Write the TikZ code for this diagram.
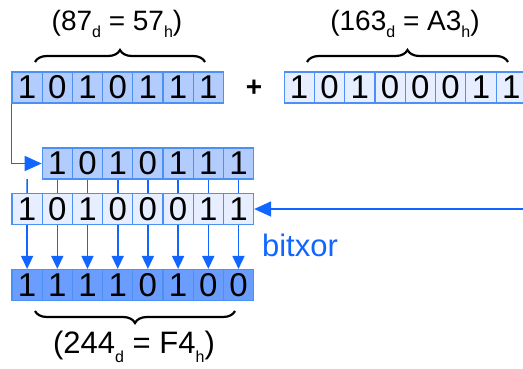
\documentclass[tikz,border=0pt]{standalone}
\usepackage{fontspec}
\setmainfont{Liberation Sans}
\usetikzlibrary{arrows.meta,decorations.pathreplacing}
\definecolor{fillA}{HTML}{B3CCFE}
\definecolor{fillB}{HTML}{E6EEFF}
\definecolor{fillC}{HTML}{6A9DFE}
\definecolor{cellline}{HTML}{4A90F5}
\definecolor{arrblue}{HTML}{1166FF}
\newcommand{\subscr}[1]{\raisebox{-0.28em}{\fontsize{16}{16}\selectfont #1}}
\tikzset{
  cell/.style={draw=cellline, line width=1.1pt, minimum width=30.2pt, minimum height=31pt,
    inner sep=0pt, font=\fontsize{33}{33}\selectfont},
  cellA/.style={cell, fill=fillA},
  cellB/.style={cell, fill=fillB},
  cellC/.style={cell, fill=fillC},
  conn/.style={draw=arrblue, line width=1.6pt},
  arr/.style={conn, -{Triangle[length=17pt,width=15pt]}},
  arrsmall/.style={conn, -{Triangle[length=13pt,width=12pt]}},
  lbl/.style={font=\fontsize{28}{28}\selectfont, inner sep=0pt},
  bracestyle/.style={draw=black, line width=2.2pt, decorate,
    decoration={brace, amplitude=12pt}},
}
\begin{document}
\begin{tikzpicture}[x=1pt,y=-1pt]
\useasboundingbox (0,0) rectangle (523,368);
% row 1 left: 1010111
\foreach \v [count=\i] in {1,0,1,0,1,1,1}
  \node[cellA] (a\i) at ({12+30.2*(\i-0.5)},87.5) {\v};
% row 1 right: 10100011
\foreach \v [count=\i] in {1,0,1,0,0,0,1,1}
  \node[cellB] (r\i) at ({284+30.3*(\i-0.5)},87.5) {\v};
% row 2 shifted: 1010111
\foreach \v [count=\i] in {1,0,1,0,1,1,1}
  \node[cellA] (b\i) at ({42.2+30.2*(\i-0.5)},163.5) {\v};
% row 3: 10100011
\foreach \v [count=\i] in {1,0,1,0,0,0,1,1}
  \node[cellB] (c\i) at ({12+30.2*(\i-0.5)},209) {\v};
% row 4: 11110100
\foreach \v [count=\i] in {1,1,1,1,0,1,0,0}
  \node[cellC] (d\i) at ({12+30.2*(\i-0.5)},285) {\v};

% labels
\node[lbl] (l1) at (117,24) {(87\subscr{d} = 57\subscr{h})};
\node[lbl] (l2) at (405,24) {(163\subscr{d} = A3\subscr{h})};
\node[lbl, font=\fontsize{31}{31}\selectfont] (l3) at (134,347) {(244\subscr{d} = F4\subscr{h})};
\node[lbl] (plus) at (254,88) {\textbf{+}};
\node[lbl, text=arrblue, font=\fontsize{31}{31}\selectfont] (bx) at (300,245) {bitxor};

% braces
\coordinate (br1a) at (35,62); \coordinate (br1b) at (205,62);
\coordinate (br2a) at (307,62); \coordinate (br2b) at (508,62);
\coordinate (br3a) at (235,311); \coordinate (br3b) at (35,311);
\draw[bracestyle] (br1a) -- (br1b);
\draw[bracestyle] (br2a) -- (br2b);
\draw[bracestyle] (br3a) -- (br3b);

% connectors
\draw[arr] (a1.south west) |- (b1.west);
\coordinate (rin) at (523,209);
\draw[arr] (rin) -- (c8.east);
\coordinate (t1) at (27.1,179);
\draw[conn] (t1) -- (c1.north);
\foreach \i [evaluate=\i as \j using int(\i+1)] in {1,...,7}
  \draw[conn] (b\i.south) -- (c\j.north);
\foreach \i in {1,...,8}
  \draw[arrsmall] (c\i.south) -- (d\i.north);
\end{tikzpicture}
\end{document}
